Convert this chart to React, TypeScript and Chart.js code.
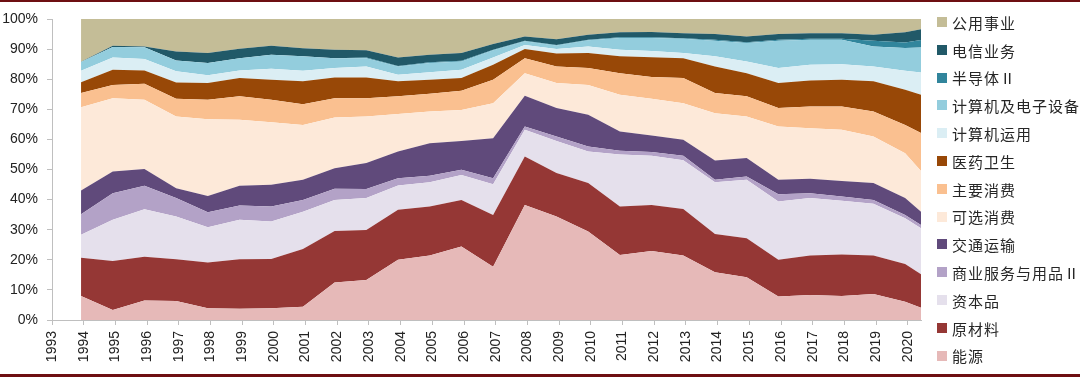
import React, { useEffect, useRef } from "react";
import { Chart, registerables } from "chart.js";

Chart.register(...registerables);

// observation dates (year-month)
const dates = [
  "1993-12", "1994-12", "1995-12", "1996-12", "1997-12", "1998-12", "1999-12",
  "2000-12", "2001-12", "2002-12", "2003-12", "2004-12", "2005-12", "2006-12",
  "2007-12", "2008-12", "2009-12", "2010-12", "2011-12", "2012-12", "2013-12",
  "2014-12", "2015-12", "2016-12", "2017-12", "2018-12", "2019-12", "2020-06",
];

// x-axis tick labels (years)
const tickYears = [
  1993, 1994, 1995, 1996, 1997, 1998, 1999, 2000, 2001, 2002, 2003, 2004, 2005, 2006,
  2007, 2008, 2009, 2010, 2011, 2012, 2013, 2014, 2015, 2016, 2017, 2018, 2019, 2020,
];
const yTicks = [0, 10, 20, 30, 40, 50, 60, 70, 80, 90, 100];

// series shares (%), stacked bottom -> top
const energy = [8.0, 3.3, 6.5, 6.3, 3.9, 3.7, 3.9, 4.4, 12.5, 13.3, 20.0, 21.4, 24.4, 17.7, 38.2, 34.4, 29.4, 21.6, 22.9, 21.4, 15.9, 14.2, 7.8, 8.3, 8.0, 8.6, 6.1, 4.1];
const materials = [12.7, 16.3, 14.5, 13.9, 15.2, 16.5, 16.4, 19.2, 17.1, 16.6, 16.6, 16.3, 15.5, 17.2, 16.1, 14.4, 16.1, 16.1, 15.3, 15.5, 12.7, 13.0, 12.2, 13.1, 13.8, 12.8, 12.5, 11.1];
const capitalGoods = [7.6, 13.7, 15.8, 14.2, 11.7, 13.1, 12.4, 12.4, 10.3, 10.6, 8.1, 8.1, 8.3, 10.2, 8.9, 10.7, 10.5, 17.3, 16.4, 16.2, 17.2, 19.4, 19.4, 19.1, 17.8, 17.2, 15.2, 15.3];
const commercial = [6.8, 8.8, 7.8, 6.1, 5.0, 4.7, 5.0, 3.9, 3.7, 3.0, 2.4, 2.1, 1.7, 2.0, 1.1, 1.5, 1.6, 1.2, 1.2, 1.5, 0.8, 1.1, 2.4, 1.6, 1.4, 1.3, 1.1, 1.1];
const transport = [7.9, 7.2, 5.6, 3.3, 5.4, 6.6, 7.2, 6.7, 6.8, 8.7, 8.9, 10.8, 9.6, 13.3, 10.2, 9.4, 10.6, 6.4, 5.5, 5.3, 6.4, 6.1, 4.8, 4.8, 5.2, 5.6, 5.6, 4.4];
const discretionary = [27.7, 24.4, 23.0, 23.8, 25.5, 21.9, 20.8, 18.2, 16.9, 15.4, 12.4, 10.6, 10.3, 11.6, 7.5, 8.3, 9.9, 12.2, 12.2, 12.1, 15.7, 13.8, 17.7, 16.8, 17.0, 15.5, 14.9, 13.5];
const staples = [4.7, 4.4, 5.3, 5.9, 6.5, 7.8, 7.5, 6.9, 6.4, 6.1, 5.9, 5.9, 6.4, 7.8, 5.0, 5.5, 5.6, 7.2, 7.2, 8.4, 6.7, 6.7, 6.1, 7.2, 7.7, 8.3, 9.4, 12.6];
const health = [3.6, 5.0, 4.4, 5.4, 5.5, 6.1, 6.6, 7.6, 6.9, 6.9, 5.0, 4.6, 4.2, 5.0, 3.0, 4.3, 5.0, 5.6, 6.6, 6.6, 8.8, 7.7, 8.3, 8.7, 8.9, 10.0, 11.7, 12.7];
const compApps = [3.8, 4.1, 3.8, 3.7, 2.6, 2.5, 3.7, 3.5, 3.1, 3.6, 2.2, 2.5, 2.7, 2.4, 1.4, 1.5, 2.2, 2.2, 2.1, 1.7, 3.4, 3.9, 5.0, 5.2, 5.2, 4.9, 6.3, 7.4];
const compElec = [2.9, 3.5, 3.9, 3.6, 4.1, 4.1, 4.6, 4.8, 3.3, 2.8, 2.7, 3.1, 2.8, 2.4, 1.2, 1.2, 2.0, 3.9, 4.3, 4.7, 5.2, 6.1, 9.1, 8.3, 8.1, 6.7, 7.6, 8.3];
const semis = [0, 0, 0, 0, 0, 0, 0, 0, 0, 0.2, 0.2, 0.2, 0.2, 0.2, 0.2, 0.2, 0.2, 0.2, 0.2, 0.2, 0.3, 0.3, 0.3, 0.3, 0.3, 1.9, 1.8, 2.5];
const telecom = [0.1, 0.4, 0.3, 3.0, 3.3, 3.1, 3.0, 2.7, 2.8, 2.4, 2.8, 2.5, 2.6, 1.9, 1.4, 1.9, 1.7, 1.7, 1.8, 1.7, 1.9, 1.9, 1.9, 1.9, 1.9, 2.0, 3.4, 3.6];
const utilities = [14.2, 8.9, 9.1, 10.8, 11.3, 9.9, 8.9, 9.7, 10.2, 10.4, 12.8, 11.9, 11.3, 8.3, 5.8, 6.7, 5.2, 4.4, 4.3, 4.7, 5.0, 5.8, 5.0, 4.7, 4.7, 5.2, 4.4, 3.4];

const seriesNames = [
  "能源", "原材料", "资本品", "商业服务与用品Ⅱ", "交通运输", "可选消费", "主要消费",
  "医药卫生", "计算机运用", "计算机及电子设备", "半导体Ⅱ", "电信业务", "公用事业",
];
const seriesValues = [
  energy, materials, capitalGoods, commercial, transport, discretionary, staples,
  health, compApps, compElec, semis, telecom, utilities,
];
const seriesColors = [
  "#E6B9B8", "#953735", "#E5E0EC", "#B3A2C7", "#604A7B", "#FDE9D9", "#FAC090",
  "#984807", "#DBEEF4", "#93CDDD", "#31859C", "#215968", "#C4BD97",
];

const toYear = (d: string) => {
  const [y, m] = d.split("-").map(Number);
  return y + (m - 1) / 12;
};

const frame = {
  id: "frameLines",
  beforeDraw(chart: any) {
    const { ctx, width, height } = chart;
    ctx.save();
    ctx.fillStyle = "#ffffff";
    ctx.fillRect(0, 0, width, height);
    ctx.fillStyle = "#6E0F12";
    ctx.fillRect(0, 0, width, 2);
    ctx.fillRect(0, height - 3, width, 3);
    ctx.restore();
  },
};

const sideLegend = {
  id: "sideLegend",
  afterDraw(chart: any) {
    const { ctx } = chart;
    const { top, right } = chart.chartArea;
    const ds = chart.data.datasets;
    const n = ds.length;
    ctx.save();
    ctx.font = '15px "Noto Sans CJK SC"';
    ctx.textBaseline = "middle";
    ctx.textAlign = "left";
    try {
      (ctx as any).letterSpacing = "1px";
    } catch (e) {}
    for (let j = 0; j < n; j++) {
      const d = ds[n - 1 - j];
      const cy = top + 3 + j * 27.8;
      ctx.fillStyle = d.backgroundColor;
      ctx.fillRect(right + 16, Math.round(cy - 5), 10, 10);
      ctx.fillStyle = "#262626";
      ctx.fillText(d.label, right + 31, cy + 1);
    }
    ctx.restore();
  },
};

export default function App() {
  const ref = useRef<HTMLCanvasElement | null>(null);

  useEffect(() => {
    document.body.style.margin = "0";
    const canvas = ref.current;
    if (!canvas) return;
    const xs = dates.map(toYear);
    const datasets = seriesValues.map((vals, i) => ({
      label: seriesNames[i],
      data: vals.map((v, k) => ({ x: xs[k], y: v })),
      backgroundColor: seriesColors[i],
      borderColor: seriesColors[i],
      borderWidth: 0,
      pointRadius: 0,
      pointHoverRadius: 0,
      tension: 0,
      fill: i === 0 ? "origin" : "-1",
    }));
    const chart = new Chart(canvas, {
      type: "line",
      data: { datasets },
      options: {
        animation: false,
        responsive: false,
        devicePixelRatio: 1,
        layout: { padding: { left: 0, top: 19, right: 159, bottom: 0 } },
        plugins: {
          legend: { display: false },
          tooltip: { enabled: false },
        },
        scales: {
          x: {
            type: "linear",
            min: tickYears[0],
            max: xs[xs.length - 1],
            afterBuildTicks: (scale: any) => {
              scale.ticks = tickYears.map((v) => ({ value: v }));
            },
            afterFit: (scale: any) => {
              scale.height = 57;
            },
            grid: {
              display: true,
              drawOnChartArea: false,
              drawTicks: true,
              tickLength: 5,
              color: "#BFBFBF",
            },
            border: { display: true, color: "#BFBFBF", width: 1 },
            ticks: {
              autoSkip: false,
              minRotation: 90,
              maxRotation: 90,
              padding: 6,
              color: "#222222",
              font: { family: '"Liberation Sans", Arial, sans-serif', size: 14 },
              callback: (v: any) => String(v),
            },
          },
          y: {
            stacked: true,
            min: 0,
            max: 100,
            afterBuildTicks: (scale: any) => {
              scale.ticks = yTicks.map((v) => ({ value: v }));
            },
            afterFit: (scale: any) => {
              scale.width = 52;
            },
            grid: {
              display: true,
              drawOnChartArea: false,
              drawTicks: true,
              tickLength: 5,
              color: "#BFBFBF",
            },
            border: { display: true, color: "#BFBFBF", width: 1 },
            ticks: {
              padding: 9,
              color: "#222222",
              font: { family: '"Liberation Sans", Arial, sans-serif', size: 14 },
              callback: (v: any) => v + "%",
            },
          },
        },
      },
      plugins: [frame, sideLegend],
    });
    return () => chart.destroy();
  }, []);

  return (
    <div style={{ width: 1080, height: 377 }}>
      <canvas ref={ref} width={1080} height={377} style={{ display: "block", width: 1080, height: 377 }} />
    </div>
  );
}
